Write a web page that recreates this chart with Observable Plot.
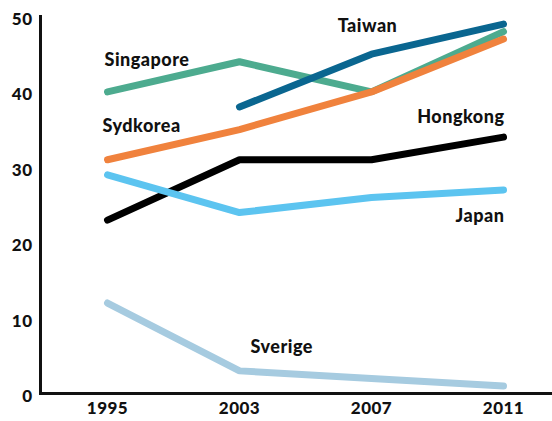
<!DOCTYPE html>
<html>
<head>
<meta charset="utf-8">
<script src="https://cdn.jsdelivr.net/npm/d3@7"></script>
<script src="https://cdn.jsdelivr.net/npm/@observablehq/plot@0.6"></script>
<style>
  html, body { margin: 0; padding: 0; background: #fff; }
  #chart svg { display: block; font-family: Lato, "Open Sans", sans-serif; }
  #chart svg text { letter-spacing: 0.5px; }
</style>
</head>
<body>
<div id="chart"></div>
<script>
const years = ["1995", "2003", "2007", "2011"];
const yTicks = [0, 10, 20, 30, 40, 50];

const countries = ["Singapore", "Taiwan", "Sydkorea", "Hongkong", "Japan", "Sverige"];
const colors = ["#4dab8f", "#0a6690", "#f0823d", "#000000", "#5cc4f0", "#a6cbe0"];

const singapore = [40, 44, 40, 48];
const taiwan = [null, 38, 45, 49];
const sydkorea = [31, 35, 40, 47];
const hongkong = [23, 31, 31, 34];
const japan = [29, 24, 26, 27];
const sverige = [12, 3, 2, 1];

const seriesValues = [singapore, taiwan, sydkorea, hongkong, japan, sverige];

// label placement (category, value, anchor)
const labelYear = ["1995", "2007", "1995", "2011", "2011", "2003"];
const labelValue = [44.2, 48.7, 35.4, 36.6, 23.5, 6.1];
const labelAnchor = ["start", "middle", "start", "end", "end", "start"];
const labelDx = [-3, -4, -5, 1, 1, 11];

const data = [];
countries.forEach((c, i) => {
  seriesValues[i].forEach((v, j) => {
    if (v != null) data.push({country: c, year: years[j], value: v});
  });
});
const labels = countries.map((c, i) => ({
  country: c, year: labelYear[i], value: labelValue[i], anchor: labelAnchor[i], dx: labelDx[i]
}));

const chart = Plot.plot({
  width: 552,
  height: 421,
  marginLeft: 40,
  marginRight: 0,
  marginTop: 16,
  marginBottom: 28,
  style: {fontSize: "17px", fontWeight: "900", color: "#111"},
  x: {domain: years, type: "point", range: [106, 503], padding: 0, label: null},
  y: {domain: [0, 50], range: [393, 16], label: null},
  color: {domain: countries, range: colors},
  marks: [
    Plot.frame({anchor: "left", stroke: "#111", strokeWidth: 3}),
    Plot.frame({anchor: "bottom", stroke: "#111", strokeWidth: 3}),
    Plot.axisY(yTicks, {tickSize: 0, tickPadding: 8, dy: 3, fontSize: 17, fontWeight: "900", label: null}),
    Plot.axisX(years, {tickSize: 0, tickPadding: 8, fontSize: 17, fontWeight: "900", label: null}),
    Plot.line(data, {
      x: "year", y: "value", z: "country", stroke: "country",
      strokeWidth: 7, strokeLinecap: "round", strokeLinejoin: "miter"
    }),
    ...labels.map(l => Plot.text([l], {
      x: "year", y: "value", text: "country", textAnchor: l.anchor, dx: l.dx,
      fontSize: 18, fontWeight: "900", fill: "#111"
    }))
  ]
});
document.getElementById("chart").appendChild(chart);
</script>
</body>
</html>
